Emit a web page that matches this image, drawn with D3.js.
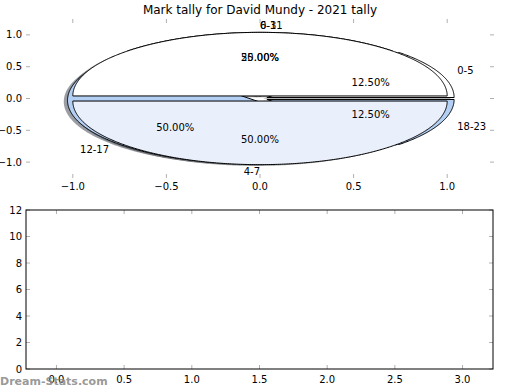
<!DOCTYPE html>
<html>
<head>
<meta charset="utf-8">
<script src="https://d3js.org/d3.v7.min.js"></script>
<style>
  body { margin: 0; background: #fff; }
  text { font-family: "DejaVu Sans", sans-serif; }
</style>
</head>
<body>
<div id="chart"></div>
<script>
  const titleText = "Mark tally for David Mundy - 2021 tally";
  const hourLabels = ["0-5", "6-11", "12-17", "18-23"];
  const hourTally = [1, 2, 4, 1];
  const blockLabels = ["0-3", "4-7"];
  const blockTally = [1, 1];
  const pieTicks = [-1.0, -0.5, 0.0, 0.5, 1.0];
  const barTicksX = [0.0, 0.5, 1.0, 1.5, 2.0, 2.5, 3.0];
  const barTicksY = [0, 2, 4, 6, 8, 10, 12];

  const hourColors = ["#ffffff", "#ffffff", "#b4cff4", "#b4cff4"];
  const blockColors = ["#ffffff", "#e9f0fc"];

  const width = 520, height = 390;
  const svg = d3.select("#chart").append("svg")
    .attr("width", width).attr("height", height);

  const fmt = d => d3.format(".1f")(d).replace("-", "\u2212");
  const tickColor = "#b0b0b0";

  // ---- top axes: the pies ----
  const x = d3.scaleLinear().domain([-1.25, 1.25]).range([26, 494]);
  const y = d3.scaleLinear().domain([-1.25, 1.25]).range([178, 19]);

  const explode = 0.04;
  const pie = d3.pie().sort(null).startAngle(0).endAngle(2 * Math.PI);

  function wedges(values, labels, colors) {
    return pie(values).map((d, i) => {
      const mid = (d.startAngle + d.endAngle) / 2;
      return {
        a0: d.startAngle, a1: d.endAngle, mid,
        cx: explode * Math.cos(mid), cy: explode * Math.sin(mid),
        label: labels[i], color: colors[i],
        pct: d.value / d3.sum(values) * 100
      };
    });
  }
  const pie1 = wedges(hourTally, hourLabels, hourColors);
  const pie2 = wedges(blockTally, blockLabels, blockColors);

  const line = d3.line();
  function wedgePath(w, ox, oy) {
    const pts = [[x(w.cx + ox), y(w.cy + oy)]];
    const n = Math.max(2, Math.ceil((w.a1 - w.a0) / 0.01));
    for (let k = 0; k <= n; k++) {
      const t = w.a0 + (w.a1 - w.a0) * k / n;
      pts.push([x(w.cx + ox + Math.cos(t)), y(w.cy + oy + Math.sin(t))]);
    }
    return line(pts) + "Z";
  }

  const pieG = svg.append("g");
  // shadows first (lower zorder), then wedges
  pieG.selectAll("path.shadow").data(pie1.concat(pie2)).join("path")
    .attr("class", "shadow")
    .attr("d", w => wedgePath(w, -0.02, -0.02))
    .attr("fill", w => {
      const c = d3.rgb(w.color);
      return d3.rgb(c.r * 0.3, c.g * 0.3, c.b * 0.3);
    })
    .attr("fill-opacity", 0.5);

  pieG.selectAll("path.w1").data(pie1).join("path")
    .attr("class", "w1")
    .attr("d", w => wedgePath(w, 0, 0))
    .attr("fill", w => w.color)
    .attr("stroke", "#000").attr("stroke-width", 1).attr("stroke-linejoin", "round");

  pieG.selectAll("path.w2").data(pie2).join("path")
    .attr("class", "w2")
    .attr("d", w => wedgePath(w, 0, 0))
    .attr("fill", w => w.color)
    .attr("stroke", "#000").attr("stroke-width", 1).attr("stroke-linejoin", "round");

  function pieText(data) {
    pieG.selectAll(null).data(data).join("text")
      .attr("x", w => x(w.cx + 1.1 * Math.cos(w.mid)))
      .attr("y", w => y(w.cy + 1.1 * Math.sin(w.mid)))
      .attr("dy", "0.35em")
      .attr("text-anchor", w => Math.cos(w.mid) > 0 ? "start" : "end")
      .attr("font-size", 10)
      .text(w => w.label);
    pieG.selectAll(null).data(data).join("text")
      .attr("x", w => x(w.cx + 0.6 * Math.cos(w.mid)))
      .attr("y", w => y(w.cy + 0.6 * Math.sin(w.mid)))
      .attr("dy", "0.35em")
      .attr("text-anchor", "middle")
      .attr("font-size", 10)
      .text(w => w.pct.toFixed(2) + "%");
  }
  pieText(pie1);
  pieText(pie2);

  // ticks (inside, no frame) for the pie axes
  const topAx = svg.append("g");
  pieTicks.forEach(v => {
    topAx.append("line").attr("x1", x(v)).attr("x2", x(v)).attr("y1", 178).attr("y2", 174).attr("stroke", tickColor);
    topAx.append("line").attr("x1", x(v)).attr("x2", x(v)).attr("y1", 19).attr("y2", 23).attr("stroke", tickColor);
    topAx.append("line").attr("x1", 26).attr("x2", 30).attr("y1", y(v)).attr("y2", y(v)).attr("stroke", tickColor);
    topAx.append("line").attr("x1", 494).attr("x2", 490).attr("y1", y(v)).attr("y2", y(v)).attr("stroke", tickColor);
    topAx.append("text").attr("x", x(v)).attr("y", 186).attr("dy", "0.35em")
      .attr("text-anchor", "middle").attr("font-size", 10).text(fmt(v));
    topAx.append("text").attr("x", 22).attr("y", y(v)).attr("dy", "0.35em")
      .attr("text-anchor", "end").attr("font-size", 10).text(fmt(v));
  });

  svg.append("text").attr("x", 260).attr("y", 10).attr("dy", "0.35em")
    .attr("text-anchor", "middle").attr("font-size", 12).text(titleText);

  // ---- bottom axes: empty bar panel ----
  const bx = d3.scaleLinear().domain([-0.225, 3.225]).range([26, 493]);
  const by = d3.scaleLinear().domain([0, 12]).range([369, 210]);
  const botAx = svg.append("g");
  barTicksX.forEach(v => {
    botAx.append("line").attr("x1", bx(v)).attr("x2", bx(v)).attr("y1", 369).attr("y2", 365).attr("stroke", tickColor);
    botAx.append("line").attr("x1", bx(v)).attr("x2", bx(v)).attr("y1", 210).attr("y2", 214).attr("stroke", tickColor);
    botAx.append("text").attr("x", bx(v)).attr("y", 379).attr("dy", "0.35em")
      .attr("text-anchor", "middle").attr("font-size", 10).text(fmt(v));
  });
  barTicksY.forEach(v => {
    botAx.append("line").attr("x1", 26).attr("x2", 30).attr("y1", by(v)).attr("y2", by(v)).attr("stroke", tickColor);
    botAx.append("line").attr("x1", 493).attr("x2", 489).attr("y1", by(v)).attr("y2", by(v)).attr("stroke", tickColor);
    botAx.append("text").attr("x", 22).attr("y", by(v)).attr("dy", "0.35em")
      .attr("text-anchor", "end").attr("font-size", 10).text(v);
  });
  botAx.append("rect").attr("x", 26).attr("y", 210).attr("width", 467).attr("height", 159)
    .attr("fill", "none").attr("stroke", "#000").attr("stroke-width", 1);

  svg.append("text").attr("x", 0).attr("y", 385)
    .attr("font-size", 11).attr("font-weight", "bold").attr("fill", "#8c8c8c")
    .attr("fill-opacity", 0.9).text("Dream-Stats.com");
</script>
</body>
</html>
